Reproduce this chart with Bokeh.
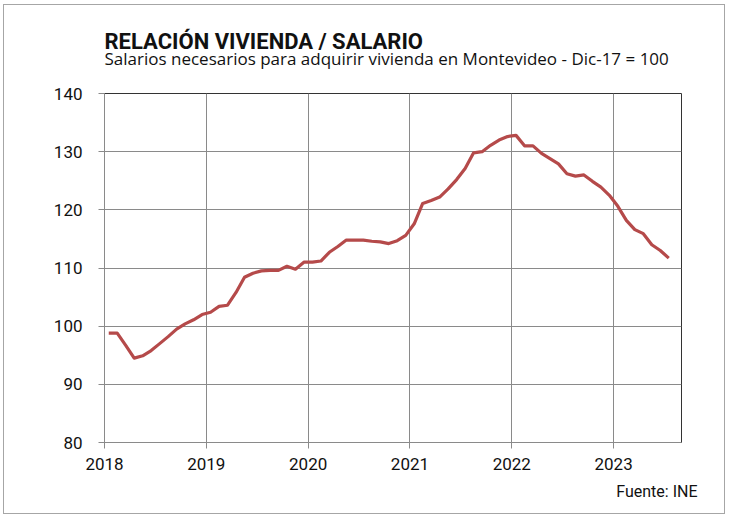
from bokeh.plotting import figure
from bokeh.models import FixedTicker, Title, Range1d
from bokeh.embed import file_html
from bokeh.resources import INLINE

# Monthly index, Jan 2018 .. Jul 2023 (Dic-17 = 100)
values = [98.8, 98.8, 96.7, 94.5, 94.9, 95.8, 97.0, 98.2, 99.5, 100.4, 101.1, 102.0,
          102.4, 103.4, 103.6, 105.8, 108.4, 109.1, 109.5, 109.6, 109.6, 110.3, 109.8, 111.0,
          111.0, 111.2, 112.7, 113.7, 114.8, 114.8, 114.8, 114.6, 114.5, 114.2, 114.7, 115.6,
          117.6, 121.1, 121.6, 122.2, 123.6, 125.2, 127.1, 129.8, 130.0, 131.1, 132.0, 132.6,
          132.8, 131.0, 131.0, 129.7, 128.8, 127.9, 126.2, 125.8, 126.0, 124.9, 123.9, 122.5,
          120.6, 118.2, 116.6, 115.9, 114.0, 113.0, 111.7]
months = [i + 0.5 for i in range(len(values))]
year_labels = ["2018", "2019", "2020", "2021", "2022", "2023"]
year_ticks = [12 * k for k in range(len(year_labels))]
y_ticks = [80, 90, 100, 110, 120, 130, 140]

TITLE = "RELACIÓN VIVIENDA / SALARIO"
SUBTITLE = "Salarios necesarios para adquirir vivienda  en Montevideo - Dic-17 = 100"
SOURCE = "Fuente: INE"

FONT = "Roboto"

p = figure(frame_width=577, frame_height=349, output_backend="svg", toolbar_location=None,
           x_range=Range1d(0, 68), y_range=Range1d(80, 140),
           min_border_left=100, min_border_right=43, min_border_bottom=71,
           min_border_top=88)
p.styles = {"margin-left": "3px", "margin-top": "4px", "border": "1px solid #a6a6a6"}

p.line(months, values, line_color="#b54a4a", line_width=3.2, line_join="round")

p.add_layout(Title(text=SUBTITLE, align="left", text_font="Open Sans",
                   text_font_size="17px", text_font_style="normal",
                   text_color="#111111", standoff=48), "above")
p.add_layout(Title(text=TITLE, align="left", text_font=FONT, text_font_size="22px",
                   text_font_style="bold", text_color="#111111", standoff=-67), "above")
p.add_layout(Title(text=SOURCE, align="right", text_font=FONT, text_font_size="16px",
                   text_font_style="normal", text_color="#111111", offset=-16,
                   standoff=14), "below")

p.xaxis.ticker = FixedTicker(ticks=year_ticks)
p.xaxis.major_label_overrides = {t: l for t, l in zip(year_ticks, year_labels)}
p.yaxis.ticker = FixedTicker(ticks=y_ticks)
p.xaxis.minor_tick_line_color = None
p.yaxis.minor_tick_line_color = None
for ax in (p.xaxis, p.yaxis):
    ax.axis_line_color = "#8a8a8a"
    ax.major_tick_line_color = "#8a8a8a"
    ax.major_tick_in = 0
    ax.major_tick_out = 6
    ax.major_label_text_font = FONT
    ax.major_label_text_font_size = "17px"
    ax.major_label_text_color = "#111111"
p.xaxis.major_label_standoff = 9
p.yaxis.major_label_standoff = 16

p.xgrid.ticker = FixedTicker(ticks=year_ticks)
p.ygrid.ticker = FixedTicker(ticks=y_ticks)
p.grid.grid_line_color = "#8a8a8a"
p.grid.grid_line_width = 1
p.outline_line_color = "#333333"
p.outline_line_width = 1
p.background_fill_color = "white"
p.border_fill_color = "white"

open("out.html", "w").write(file_html(p, INLINE))
